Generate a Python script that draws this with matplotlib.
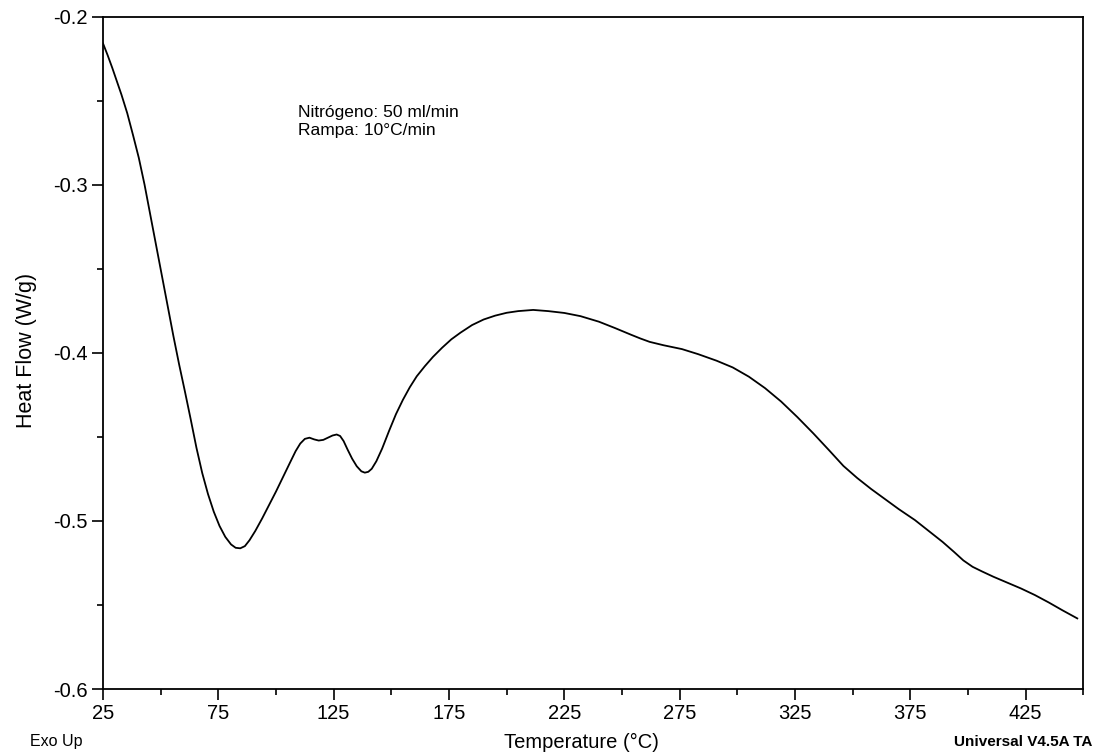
import matplotlib
matplotlib.use('Agg')
from matplotlib import pyplot as plt
from matplotlib.ticker import MultipleLocator

temperature = [25.0, 27.0, 29.0, 31.0, 33.0, 35.5, 38.0, 40.5, 43.0, 45.5,
               48.0, 50.5, 53.0, 55.5, 58.0, 60.5, 63.0, 65.5, 68.0, 70.5,
               73.0, 75.5, 78.0, 80.5, 82.5, 84.5, 86.5, 88.5, 91.0, 94.0,
               97.0, 100.0, 103.0, 106.0, 108.5, 110.5, 112.5, 114.5, 116.5, 118.5,
               120.5, 122.5, 124.5, 126.3, 127.8, 129.3, 131.0, 133.0, 135.0, 137.0,
               138.5, 140.0, 141.5, 143.5, 146.0, 149.0, 152.0, 155.0, 158.0, 161.0,
               164.5, 168.0, 172.0, 176.0, 180.0, 185.0, 190.0, 195.0, 200.0, 205.0,
               211.5, 218.0, 225.0, 232.0, 240.0, 247.0, 254.0, 258.0, 262.0, 268.0,
               276.0, 283.0, 291.0, 298.0, 305.0, 312.0, 319.0, 326.0, 333.0, 340.0,
               346.0, 352.0, 358.0, 364.0, 370.0, 377.0, 383.0, 389.0, 394.0, 398.0,
               402.0, 406.0, 411.0, 417.0, 423.0, 429.0, 435.0, 441.0, 447.4]
heat_flow = [-0.216, -0.223, -0.2305, -0.2385, -0.2465, -0.2575, -0.2705, -0.284, -0.300, -0.318,
             -0.336, -0.354, -0.372, -0.390, -0.407, -0.423, -0.4395, -0.4565, -0.4715, -0.484,
             -0.4945, -0.503, -0.5095, -0.514, -0.516, -0.5163, -0.515, -0.5115, -0.506, -0.4985,
             -0.4905, -0.4825, -0.474, -0.4655, -0.4585, -0.454, -0.4512, -0.4505, -0.4515, -0.4522,
             -0.4518, -0.4505, -0.4492, -0.4486, -0.4495, -0.4525, -0.4575, -0.463, -0.4675, -0.4705,
             -0.4713, -0.4708, -0.469, -0.4645, -0.457, -0.4465, -0.4365, -0.428, -0.4205, -0.414,
             -0.408, -0.4025, -0.397, -0.392, -0.388, -0.3835, -0.3802, -0.3779, -0.3762, -0.3752,
             -0.3745, -0.3752, -0.3763, -0.3782, -0.3815, -0.3853, -0.3893, -0.3915, -0.3935, -0.3955,
             -0.3978, -0.4008, -0.4047, -0.4087, -0.4142, -0.421, -0.429, -0.4382, -0.448, -0.4583,
             -0.4673, -0.4745, -0.481, -0.487, -0.493, -0.4995, -0.506, -0.5125, -0.5185, -0.5235,
             -0.5273, -0.530, -0.5332, -0.5367, -0.5402, -0.5441, -0.5485, -0.5532, -0.558]

x_ticks = [25, 75, 125, 175, 225, 275, 325, 375, 425]
y_ticks = [-0.6, -0.5, -0.4, -0.3, -0.2]
y_tick_labels = ['-0.6', '-0.5', '-0.4', '-0.3', '-0.2']

plt.rcParams['font.family'] = ['Liberation Sans', 'DejaVu Sans']

fig = plt.figure(figsize=(10.95, 7.54), dpi=100)
ax = fig.add_axes([0.0941, 0.0862, 0.8952, 0.8918])

ax.plot(temperature, heat_flow, color='black', linewidth=1.3)

ax.set_xlim(25, 450)
ax.set_ylim(-0.6, -0.2)
ax.set_xticks(x_ticks)
ax.set_yticks(y_ticks)
ax.set_yticklabels(y_tick_labels)
ax.xaxis.set_minor_locator(MultipleLocator(25))
ax.yaxis.set_minor_locator(MultipleLocator(0.05))
ax.tick_params(which='major', direction='out', length=8, width=1.2, labelsize=14.5, pad=3)
ax.tick_params(which='minor', direction='out', length=4, width=1.2)
ax.tick_params(top=False, right=False)
for sp in ax.spines.values():
    sp.set_linewidth(1.3)

ax.set_xlabel('Temperature (°C)', fontsize=14.5)
ax.xaxis.set_label_coords(0.488, -0.066)
ax.set_ylabel('Heat Flow (W/g)', fontsize=15.5)
ax.yaxis.set_label_coords(-0.067, 0.503)

ax.text(0.199, 0.868, 'Nitrógeno: 50 ml/min\nRampa: 10°C/min', transform=ax.transAxes,
        fontsize=12.5, va='top', ha='left', linespacing=1.25)

fig.text(0.027, 0.006, 'Exo Up', fontsize=11.5, ha='left', va='bottom')
fig.text(0.998, 0.006, 'Universal V4.5A TA', fontsize=11,
         fontweight='semibold', ha='right', va='bottom')

fig.savefig('out.png', dpi=100)
